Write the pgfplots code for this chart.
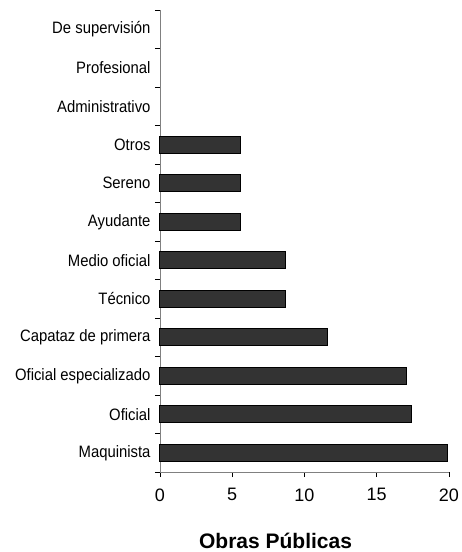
\documentclass[border=0pt]{standalone}
\usepackage{fontspec}
\setmainfont{Liberation Sans}
\newfontfamily\catfont[FakeStretch=0.9]{Liberation Sans}
\usepackage{pgfplots}
\pgfplotsset{compat=1.18}
\definecolor{barfill}{HTML}{333333}
\definecolor{axgray}{HTML}{808080}

\begin{document}
\begin{tikzpicture}
  \begin{axis}[
    scale only axis,
    width=289pt, height=462pt,
    xbar, bar width=16.7pt,
    xmin=0, xmax=20, ymin=-0.5, ymax=11.5,
    axis x line*=bottom, axis y line*=left,
    axis line style={axgray, line width=0.9pt, -},
    xtick={0,5,10,15,20},
    ytick={0,...,11},
    yticklabels={Maquinista, Oficial, Oficial especializado, Capataz de primera,
      Técnico, Medio oficial, Ayudante, Sereno, Otros, Administrativo,
      Profesional, De supervisión},
    minor ytick={-0.5,0.5,...,11.5},
    tick align=outside,
    major tick length=5pt, minor tick length=5pt,
    major y tick style={draw=none},
    minor y tick style={black, line width=0.8pt},
    major x tick style={black, line width=0.8pt},
    /pgf/number format/assume math mode=true,
    yticklabel style={font=\catfont\fontsize{16.5}{18}\selectfont, xshift=-1pt},
    xticklabel style={font=\fontsize{18}{20}\selectfont, yshift=-8pt},
    xlabel={Obras Públicas},
    xlabel style={font=\bfseries\fontsize{21}{24}\selectfont,
      at={(axis description cs:0.40,0)}, anchor=base, yshift=-76pt},
    clip=false,
  ]
    % valores en porcentaje, de abajo hacia arriba
    \addplot[fill=barfill, draw=black, line width=1pt] coordinates {
      (19.9,0) (17.4,1) (17.05,2) (11.6,3) (8.7,4) (8.7,5)
      (5.6,6) (5.6,7) (5.6,8)
    };
  \end{axis}
  \pgfresetboundingbox
  \path ([shift={(-160pt,-80pt)}]current axis.south west)
    rectangle ([shift={(301pt,472pt)}]current axis.south west);
\end{tikzpicture}
\end{document}
